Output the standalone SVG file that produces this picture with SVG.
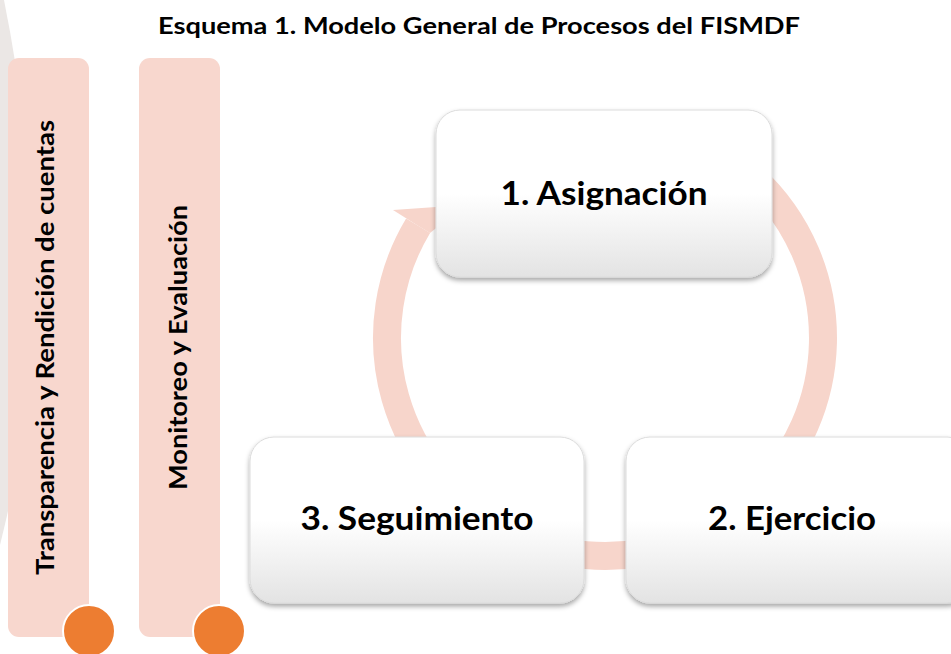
<svg xmlns="http://www.w3.org/2000/svg" width="951" height="654" viewBox="0 0 951 654">
  <defs>
    <style>
      .t { font-family: Lato, "Open Sans", "Liberation Sans", sans-serif; font-weight: 700; fill: #000; }
      .pill { fill: #f8d7ce; }
      .dot { fill: #ed7d31; stroke: #ffffff; stroke-width: 2; }
      .box { fill: url(#bg); stroke: #dcdcdc; stroke-width: 1; filter: url(#sh); }
      .ring { fill: none; stroke: #f7d5cb; stroke-width: 28; }
      .head { fill: #f7d5cb; }
      .boxt { font-size: 32px; text-anchor: middle; }
      .vt { font-size: 24px; text-anchor: middle; }
    </style>
    <linearGradient id="bg" x1="0" y1="0" x2="0" y2="1">
      <stop offset="0" stop-color="#ffffff"/>
      <stop offset="0.5" stop-color="#ffffff"/>
      <stop offset="1" stop-color="#e3e3e3"/>
    </linearGradient>
    <filter id="sh" x="-10%" y="-10%" width="120%" height="130%">
      <feDropShadow dx="0" dy="3" stdDeviation="2.5" flood-color="#000000" flood-opacity="0.35"/>
    </filter>
  </defs>

  <rect width="951" height="654" fill="#ffffff"/>

  <!-- faint background shape at left -->
  <path d="M0,0 L4,0 Q60,280 6,520 L0,545 Z" fill="#ebe7e5"/>

  <text class="t" x="479" y="34" font-size="23" text-anchor="middle" textLength="642" lengthAdjust="spacingAndGlyphs">Esquema 1. Modelo General de Procesos del FISMDF</text>

  <g id="pill-transparencia">
    <rect class="pill" x="8" y="58" width="81" height="579" rx="11"/>
    <circle class="dot" cx="89" cy="631" r="26"/>
    <text class="t vt" transform="translate(54,347.5) rotate(-90)" textLength="455" lengthAdjust="spacingAndGlyphs">Transparencia y Rendición de cuentas</text>
  </g>

  <g id="pill-monitoreo">
    <rect class="pill" x="139" y="58" width="81" height="579" rx="11"/>
    <circle class="dot" cx="219" cy="631" r="26"/>
    <text class="t vt" transform="translate(187,347.5) rotate(-90)" textLength="285" lengthAdjust="spacingAndGlyphs">Monitoreo y Evaluación</text>
  </g>

  <g id="connectors">
    <path class="ring" d="M679.6,133.1 A218,218 0 1,1 418.1,225.7"/>
    <polygon class="head" points="393,210 465,205 430,233 418,225.7"/>
  </g>

  <g id="node-asignacion">
    <rect class="box" x="436" y="110" width="336" height="167" rx="24"/>
    <text class="t boxt" x="604" y="205" textLength="207" lengthAdjust="spacingAndGlyphs">1. Asignación</text>
  </g>

  <g id="node-seguimiento">
    <rect class="box" x="250" y="437" width="334" height="166" rx="24"/>
    <text class="t boxt" x="417" y="530" textLength="233" lengthAdjust="spacingAndGlyphs">3. Seguimiento</text>
  </g>

  <g id="node-ejercicio">
    <rect class="box" x="626" y="437" width="345" height="166" rx="24"/>
    <text class="t boxt" x="792" y="530" textLength="168" lengthAdjust="spacingAndGlyphs">2. Ejercicio</text>
  </g>
</svg>
